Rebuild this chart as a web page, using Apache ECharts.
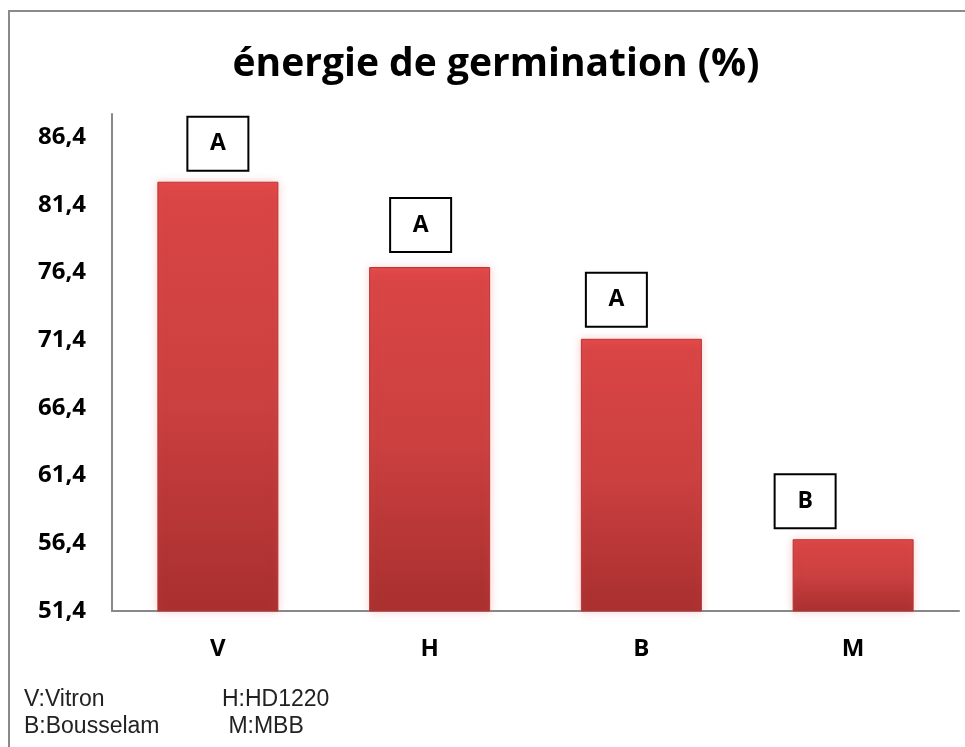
<!DOCTYPE html>
<html lang="fr">
<head>
<meta charset="UTF-8">
<title>énergie de germination</title>
<style>
  html, body { margin: 0; padding: 0; background: #fff; }
  #chart { width: 965px; height: 747px; }
</style>
</head>
<body>
<div id="chart"></div>
<script src="https://cdn.jsdelivr.net/npm/echarts@6/dist/echarts.min.js"></script>
<script>
// varieties and their germination energy (%)
var varieties = ['V', 'H', 'B', 'M'];
var energy = [83.1, 76.8, 71.5, 56.7];
// letters of the significance groups shown above the bars
var groups = ['A', 'A', 'A', 'B'];
var legendLines = [
  ['V:Vitron', 'H:HD1220'],
  ['B:Bousselam', ' M:MBB']
];

// horizontal shift / gap of each letter box (style only)
var boxShift = [0, -9, -25, -48];
var boxGap = [12, 16, 13, 12];

var chart = echarts.init(document.getElementById('chart'));

var barFill = new echarts.graphic.LinearGradient(0, 0, 0, 1, [
  { offset: 0, color: '#e44848' },
  { offset: 0.04, color: '#d94545' },
  { offset: 0.5, color: '#cc4040' },
  { offset: 1, color: '#a92f2f' }
]);

var barData = energy.map(function (v, i) {
  return {
    value: v,
    label: {
      show: true,
      position: 'top',
      distance: boxGap[i],
      offset: [boxShift[i], 0],
      formatter: groups[i]
    }
  };
});

var legendText = [];
legendLines.forEach(function (row, r) {
  legendText.push({
    type: 'text', left: 24, top: 688 + r * 27,
    style: { text: row[0], font: '23px "Liberation Sans", Arial, sans-serif', fill: '#222' }
  });
  legendText.push({
    type: 'text', left: 222, top: 688 + r * 27,
    style: { text: row[1], font: '23px "Liberation Sans", Arial, sans-serif', fill: '#222' }
  });
});

var option = {
  animation: false,
  backgroundColor: '#fff',
  title: {
    text: 'énergie de germination (%)',
    left: 491,
    textAlign: 'center',
    top: 40,
    textStyle: { fontFamily: 'Open Sans', fontWeight: 'bold', fontSize: 39, color: '#000' }
  },
  grid: { left: 112, right: 6, top: 114, bottom: 136, containLabel: false },
  xAxis: {
    type: 'category',
    data: varieties,
    axisLine: { lineStyle: { color: '#888', width: 2 } },
    axisTick: { show: false },
    axisLabel: { margin: 26, fontFamily: 'Open Sans', fontWeight: 'bold', fontSize: 24, color: '#000' }
  },
  yAxis: {
    type: 'value',
    min: 51.4,
    max: 88.1,
    interval: 5,
    splitLine: { show: false },
    axisLine: { show: true, lineStyle: { color: '#888', width: 2 } },
    axisTick: { show: false },
    axisLabel: {
      margin: 26,
      showMaxLabel: false,
      fontFamily: 'Open Sans', fontWeight: 'bold', fontSize: 24, color: '#000',
      formatter: function (v) { return v.toFixed(1).replace('.', ','); }
    }
  },
  series: [{
    type: 'bar',
    data: barData,
    barWidth: 121,
    itemStyle: {
      color: barFill,
      borderColor: '#b53636',
      borderWidth: 1,
      shadowColor: 'rgba(240,120,120,0.35)',
      shadowBlur: 8
    },
    label: {
      color: '#000',
      fontFamily: 'Open Sans',
      fontWeight: 'bold',
      fontSize: 23,
      backgroundColor: '#fff',
      borderColor: '#000',
      borderWidth: 2,
      width: 59,
      height: 52,
      lineHeight: 52,
      align: 'center'
    }
  }],
  graphic: [{
    type: 'rect',
    shape: { x: 9, y: 11, width: 1000, height: 800 },
    style: { fill: 'none', stroke: '#8a8a8a', lineWidth: 2 },
    silent: true
  }].concat(legendText)
};

chart.setOption(option);
</script>
</body>
</html>
